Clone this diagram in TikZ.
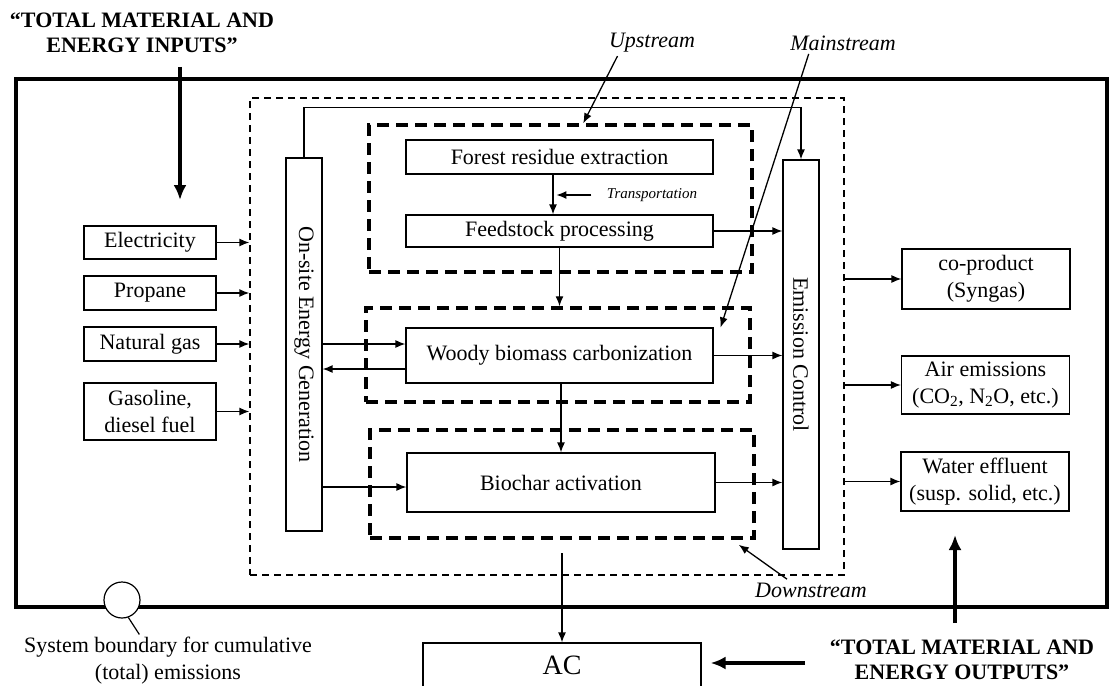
\documentclass[tikz,border=0pt]{standalone}
\usepackage{fontspec}
\setmainfont{Liberation Serif}
\usetikzlibrary{arrows.meta}

\begin{document}
\begin{tikzpicture}[x=1pt,y=-1pt,
  box/.style={draw, line width=1.2pt, inner sep=0pt, align=center, font=\fontsize{22}{27}\selectfont},
  stage/.style={draw, line width=3.5pt, dash pattern=on 12pt off 7pt, inner sep=0pt},
  arr/.style={line width=1.3pt, -{Latex[length=10pt,width=8pt]}},
  bigarr/.style={line width=3.5pt, -{Latex[length=15pt,width=13pt]}},
  lbl/.style={font=\fontsize{22}{27}\selectfont\itshape},
  heading/.style={align=center, font=\fontsize{22}{25}\selectfont\bfseries}]
\useasboundingbox (0,0) rectangle (1113,685);

\node[draw, line width=4pt, inner sep=0pt, minimum width=1091pt, minimum height=528pt] (outer) at (561.5,343) {};
\node[draw, line width=1.3pt, dash pattern=on 7pt off 5pt, inner sep=0pt, minimum width=594pt, minimum height=477pt] (sysbnd) at (547,336.5) {};
\node[stage, minimum width=383pt, minimum height=147pt] (upstage) at (560.5,198.5) {};
\node[stage, minimum width=384pt, minimum height=94pt] (midstage) at (558,355) {};
\node[stage, minimum width=384pt, minimum height=108pt] (downstage) at (562,484) {};

\node[box, minimum width=132pt, minimum height=33pt] (elec) at (150,242.5) {Electricity};
\node[box, minimum width=132pt, minimum height=34pt] (prop) at (150,293) {Propane};
\node[box, minimum width=132pt, minimum height=34pt] (ngas) at (150,344) {Natural gas};
\node[box, minimum width=132pt, minimum height=57pt] (gaso) at (150,411.5) {Gasoline,\\diesel fuel};

\node[box, minimum width=36pt, minimum height=373pt] (onsite) at (304,344.5) {};
\node[rotate=-90, font=\fontsize{22}{27}\selectfont] at (onsite) {On-site Energy Generation};
\node[box, minimum width=36pt, minimum height=389pt] (ec) at (801,354.5) {};
\node[rotate=-90, font=\fontsize{22}{27}\selectfont] at (ec) {Emission Control};

\node[box, minimum width=307pt, minimum height=34pt] (forest) at (559.5,157) {Forest residue extraction};
\node[box, minimum width=307pt, minimum height=32pt] (feed) at (559.5,231) {Feedstock processing};
\node[box, minimum width=307pt, minimum height=55pt] (woody) at (559.5,355.5) {Woody biomass carbonization};
\node[box, minimum width=308pt, minimum height=59pt] (biochar) at (561,482.5) {Biochar activation};

\node[box, minimum width=168pt, minimum height=60pt] (coprod) at (986,279) {co-product\\(Syngas)};
\node[box, minimum width=168pt, minimum height=58pt] (air) at (985.5,385) {Air emissions\\(CO\textsubscript{2}, N\textsubscript{2}O, etc.)};
\node[box, minimum width=168pt, minimum height=59pt] (water) at (985,481.5) {Water effluent\\(susp. solid, etc.)};
\node[box, minimum width=278pt, minimum height=44pt, font=\fontsize{28}{32}\selectfont] (ac) at (562,665) {AC};

\node[font=\fontsize{15}{18}\selectfont\itshape] (transp) at (652,195) {Transportation};
\node[lbl] (upl) at (652,43) {Upstream};
\node[lbl] (mainl) at (843,43) {Mainstream};
\node[lbl] (downl) at (811,590) {Downstream};
\node[heading] (inlbl) at (142,33) {“TOTAL MATERIAL AND\\ENERGY INPUTS”};
\node[heading] (outlbl) at (962,660) {“TOTAL MATERIAL AND\\ENERGY OUTPUTS”};
\node[align=center, font=\fontsize{22}{27}\selectfont] (sysl) at (168,661) {System boundary for cumulative\\(total) emissions};
\node[circle, draw, fill=white, line width=1.2pt, inner sep=0pt, minimum size=36pt] (lens) at (122,600) {};

\draw[arr] (elec.east) -- (elec.east -| sysbnd.west);
\draw[arr] (prop.east) -- (prop.east -| sysbnd.west);
\draw[arr] (ngas.east) -- (ngas.east -| sysbnd.west);
\draw[arr] (gaso.east) -- (gaso.east -| sysbnd.west);

\draw[arr] (onsite.north) -- ++(0,-50) -| (ec.north);
\draw[arr] (onsite.east |- 0,344) -- (woody.west |- 0,344);
\draw[arr] (woody.west |- 0,369) -- (onsite.east |- 0,369);
\draw[arr] (onsite.east |- 0,487) -- (biochar.west |- 0,487);

\draw[arr] (forest.south -| 553,0) -- (feed.north -| 553,0);
\draw[arr] ([xshift=-12pt]transp.west) -- ++(-35,0);
\draw[arr] (feed.south) -- (feed.south |- midstage.north);
\draw[arr] (woody.south -| 561,0) -- (biochar.north -| 561,0);

\draw[arr] (feed.east) -- (feed.east -| ec.west);
\draw[arr] (woody.east) -- (woody.east -| ec.west);
\draw[arr] (biochar.east) -- (biochar.east -| ec.west);

\draw[arr] (sysbnd.east |- coprod.west) -- (coprod.west);
\draw[arr] (sysbnd.east |- air.west) -- (air.west);
\draw[arr] (sysbnd.east |- water.west) -- (water.west);

\coordinate (acin) at (562,553);
\draw[arr] (acin) -- (ac.north);

\draw[arr] ([xshift=12pt]upl.south west) -- ([xshift=216pt]upstage.north west);
\draw[arr] ([xshift=22pt]mainl.south west) -- ([xshift=7pt]woody.north east);
\draw[arr] ([xshift=-24pt]downl.north) -- ([xshift=-17pt,yshift=-5pt]downstage.south east);

\coordinate (inarrow) at (180,67);
\draw[bigarr] (inarrow) -- ++(0,133);
\coordinate (outup) at (955,623);
\draw[bigarr] (outup) -- ++(0,-88);
\coordinate (outleft) at (805,663);
\draw[bigarr, shorten >=9pt] (outleft) -- (outleft -| ac.east);

\draw[line width=1.2pt] (lens.-70) -- ++(11,17);
\end{tikzpicture}
\end{document}
